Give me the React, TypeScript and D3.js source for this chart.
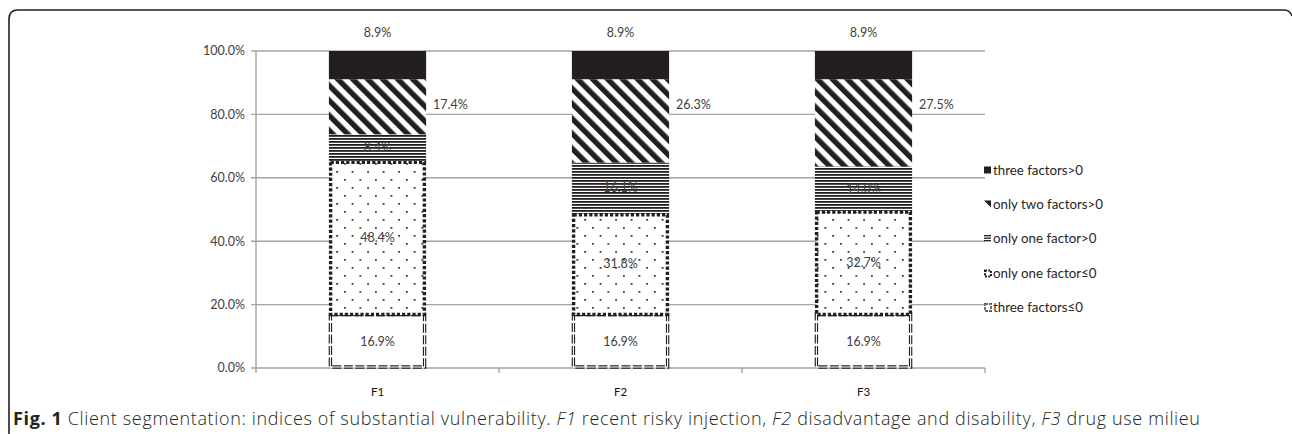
import React from "react";
import * as d3 from "d3";

const categories = ["F1", "F2", "F3"];
const seriesNames = [
  "three factors≤0",
  "only one factor≤0",
  "only one factor>0",
  "only two factors>0",
  "three factors>0",
];
const threeLE0 = [16.9, 16.9, 16.9];
const oneLE0 = [48.4, 31.8, 32.7];
const oneGT0 = [8.4, 16.1, 14.0];
const twoGT0 = [17.4, 26.3, 27.5];
const threeGT0 = [8.9, 8.9, 8.9];
const yTicks = [0, 20, 40, 60, 80, 100];

const W = 1292;
const H = 434;
const plotL = 256;
const plotR = 985;
const plotT = 51;
const plotB = 368;

const seriesValues = [threeLE0, oneLE0, oneGT0, twoGT0, threeGT0];
const rows = categories.map((c, i) => {
  const r: any = { cat: c };
  seriesNames.forEach((s, k) => (r[s] = seriesValues[k][i]));
  return r;
});

const fills = ["#ffffff", "url(#dots)", "url(#hlines)", "url(#stripes)", "#231f20"];
const ink = "#231f20";
const grid = "#a3a3a3";
const labelColor = "#404040";
const font = "Lato, 'Open Sans', sans-serif";

export default function App() {
  const x = d3.scaleBand<string>().domain(categories).range([plotL, plotR]).paddingInner(0).paddingOuter(0);
  const y = d3.scaleLinear().domain([0, 100]).range([plotB, plotT]);
  const stack = d3.stack<any>().keys(seriesNames);
  const layers = stack(rows);
  const bw = x.bandwidth() * 0.4;
  const fmt = (v: number) => v.toFixed(1) + "%";

  const legendY = [170, 204, 238, 273, 307];
  const legendOrder = [4, 3, 2, 1, 0];

  return (
    <svg width={W} height={H} style={{ position: "absolute", left: 0, top: 0, background: "#fff" }} fontFamily={font}>
      <defs>
        <pattern id="stripes" patternUnits="userSpaceOnUse" width={10.6} height={10.6} patternTransform="rotate(-45)">
          <rect x={0} y={0} width={10.6} height={10.6} fill="#fff" />
          <rect x={0} y={0} width={5.4} height={10.6} fill={ink} />
        </pattern>
        <pattern id="hlines" patternUnits="userSpaceOnUse" width={4} height={3}>
          <rect x={0} y={0} width={4} height={3} fill="#fff" />
          <rect x={0} y={0} width={4} height={1.8} fill={ink} />
        </pattern>
        <pattern id="dots" patternUnits="userSpaceOnUse" width={15.5} height={16}>
          <rect x={0} y={0} width={15.5} height={16} fill="#fff" />
          <rect x={3} y={3} width={1.7} height={1.7} fill={ink} />
          <rect x={10.75} y={11} width={1.7} height={1.7} fill={ink} />
        </pattern>
      </defs>

      {/* frame */}
      <path
        d={`M9,${H + 2} L9,19 Q9,10 18,10 L1284,10 Q1290,10 1292,16`}
        fill="none"
        stroke={ink}
        strokeWidth={1.6}
      />

      {/* gridlines */}
      {yTicks.map((t) => (
        <line key={"g" + t} x1={plotL - 5} x2={plotR} y1={y(t)} y2={y(t)} stroke={grid} strokeWidth={1.4} />
      ))}
      <line x1={plotL} x2={plotL} y1={plotT} y2={plotB} stroke={grid} strokeWidth={1.4} />
      {d3.range(categories.length + 1).map((i) => {
        const xx = plotL + i * x.bandwidth();
        return <line key={"xt" + i} x1={xx} x2={xx} y1={plotB} y2={plotB + 5} stroke={grid} strokeWidth={1.4} />;
      })}

      {/* y tick labels */}
      {yTicks.map((t) => (
        <text key={"yl" + t} x={plotL - 11} y={y(t)} dy="0.35em" textAnchor="end" fontSize={12.5} fill={labelColor}>
          {fmt(t)}
        </text>
      ))}

      {/* x labels */}
      {categories.map((c) => (
        <text key={"xl" + c} x={(x(c) as number) + x.bandwidth() / 2} y={plotB + 28} textAnchor="middle" fontSize={11.5} fill="#111">
          {c}
        </text>
      ))}

      {/* bars */}
      {layers.map((layer, k) =>
        layer.map((d, i) => {
          const cx = (x(categories[i]) as number) + x.bandwidth() / 2;
          const x0 = cx - bw / 2;
          const y0 = y(d[1]);
          const h = y(d[0]) - y(d[1]);
          if (k === 0) {
            return (
              <g key={`b${k}-${i}`}>
                <rect x={x0 + 1.5} y={y0} width={bw - 3} height={h - 1} fill="#fff" stroke={ink} strokeWidth={3.4} strokeDasharray="9,2.5" />
                <rect x={x0 + 1.5} y={y0} width={bw - 3} height={h - 1} fill="none" stroke="#fff" strokeWidth={1.1} />
              </g>
            );
          }
          if (k === 1) {
            return (
              <rect key={`b${k}-${i}`} x={x0 + 1.7} y={y0 + 1.2} width={bw - 3.4} height={h - 1.2} fill={fills[k]} stroke={ink} strokeWidth={3.4} strokeDasharray="3.2,2" />
            );
          }
          return <rect key={`b${k}-${i}`} x={x0} y={y0} width={bw} height={h} fill={fills[k]} />;
        })
      )}

      {/* data labels */}
      {layers.map((layer, k) =>
        layer.map((d, i) => {
          const cx = (x(categories[i]) as number) + x.bandwidth() / 2;
          const v = seriesValues[k][i];
          if (k === 4) {
            return (
              <text key={`l${k}-${i}`} x={cx} y={y(100) - 18} dy="0.35em" textAnchor="middle" fontSize={12.5} fill={labelColor}>
                {fmt(v)}
              </text>
            );
          }
          if (k === 3) {
            return (
              <text key={`l${k}-${i}`} x={cx + bw / 2 + 7} y={y(d[1]) + 25} dy="0.35em" textAnchor="start" fontSize={12.5} fill={labelColor}>
                {fmt(v)}
              </text>
            );
          }
          return (
            <text key={`l${k}-${i}`} x={cx} y={y((d[0] + d[1]) / 2)} dy="0.35em" textAnchor="middle" fontSize={12.5} fill={labelColor}>
              {fmt(v)}
            </text>
          );
        })
      )}

      {/* legend */}
      {legendOrder.map((k, j) => {
        const ly = legendY[j];
        const sx = 984;
        let sym: any;
        if (k === 4) sym = <rect x={sx} y={ly - 3.5} width={7} height={7} fill={ink} />;
        else if (k === 3) sym = <path d={`M${sx},${ly - 3.5} L${sx + 7},${ly - 3.5} L${sx + 7},${ly + 3.5} Z`} fill={ink} />;
        else if (k === 2)
          sym = (
            <g>
              {[0, 1, 2].map((q) => (
                <rect key={q} x={sx} y={ly - 3 + q * 2.5} width={7} height={1.3} fill={ink} />
              ))}
            </g>
          );
        else if (k === 1)
          sym = <rect x={sx + 1} y={ly - 2.5} width={6} height={6} fill="#fff" stroke={ink} strokeWidth={2} strokeDasharray="2,1.2" />;
        else
          sym = (
            <g>
              <rect x={sx + 1} y={ly - 3} width={6} height={7} fill="#fff" stroke={ink} strokeWidth={1.8} strokeDasharray="3,1" />
              <rect x={sx + 1} y={ly - 3} width={6} height={7} fill="none" stroke="#fff" strokeWidth={0.6} />
            </g>
          );
        return (
          <g key={"lg" + k}>
            {sym}
            <text x={sx + 9} y={ly} dy="0.35em" fontSize={13.3} fill="#262626">
              {seriesNames[k]}
            </text>
          </g>
        );
      })}

      {/* caption */}
      <text x={13} y={425} fontSize={18} fontWeight={300} fill={ink} fontFamily="'Open Sans', 'Noto Sans', sans-serif" textLength={1187} lengthAdjust="spacing">
        <tspan fontWeight="bold">Fig. 1</tspan>
        <tspan> Client segmentation: indices of substantial vulnerability. </tspan>
        <tspan fontStyle="italic">F1</tspan>
        <tspan> recent risky injection, </tspan>
        <tspan fontStyle="italic">F2</tspan>
        <tspan> disadvantage and disability, </tspan>
        <tspan fontStyle="italic">F3</tspan>
        <tspan> drug use milieu</tspan>
      </text>
    </svg>
  );
}
